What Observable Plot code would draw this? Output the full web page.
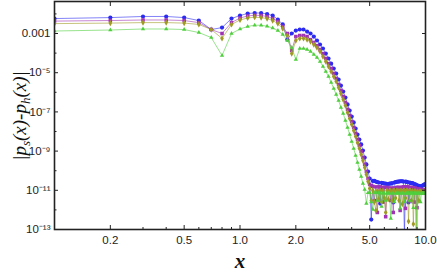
<!DOCTYPE html>
<html><head><meta charset="utf-8">
<script src="https://cdn.jsdelivr.net/npm/d3@7"></script>
<script src="https://cdn.jsdelivr.net/npm/@observablehq/plot@0.6"></script>
<style>body{margin:0;background:#fff}</style>
</head><body><div id="chart"></div>
<script>
const xs = [0.1,0.2,0.3,0.4,0.5,0.6,0.7,0.8,0.9,1.0,
1.1,1.2,1.3,1.4,1.5,1.6,1.7,1.8,1.9,2.0,
2.1,2.2,2.3,2.4,2.5,2.6,2.7,2.8,2.9,3.0,
3.1,3.2,3.3,3.4,3.5,3.6,3.7,3.8,3.9,4.0,
4.1,4.2,4.3,4.4,4.5,4.6,4.7,4.8,4.9,5.0,
5.1,5.2,5.3,5.4,5.5,5.6,5.7,5.8,5.9,6.0,
6.1,6.2,6.3,6.4,6.5,6.6,6.7,6.8,6.9,7.0,
7.1,7.2,7.3,7.4,7.5,7.6,7.7,7.8,7.9,8.0,
8.1,8.2,8.3,8.4,8.5,8.6,8.7,8.8,8.9,9.0,
9.1,9.2,9.3,9.4,9.5,9.6,9.7,9.8,9.9,10.0];

const blueVals = [5.8e-3,6.5e-3,7.4e-3,7.4e-3,6.5e-3,4.6e-3,1.6e-3,2.0e-3,5.8e-3,8.3e-3,
1.05e-2,1.11e-2,1.11e-2,9.9e-3,8.3e-3,5.2e-3,2.9e-3,4.9e-4,1.0e-3,1.42e-3,
1.6e-3,1.6e-3,1.26e-3,1.0e-3,7.0e-4,4.4e-4,2.75e-4,1.72e-4,9.5e-5,5.3e-5,
2.9e-5,1.64e-5,9.1e-6,4.5e-6,2.2e-6,1.1e-6,5.4e-7,2.4e-7,1.18e-7,5.8e-8,
2.9e-8,1.42e-8,7.0e-9,3.9e-9,2.2e-9,1.07e-9,4.7e-10,2.1e-10,9.1e-11,4.0e-11,
3.2e-13,3.0e-11,3.0e-11,2.8e-11,2.6e-11,2.5e-11,2.1e-12,2.4e-11,2.3e-11,2.2e-11,
2.2e-11,2.1e-11,2.1e-11,2.2e-11,2.2e-11,2.3e-11,2.4e-12,2.5e-11,2.6e-11,2.7e-11,
2.8e-11,2.8e-11,2.9e-11,2.9e-11,2.9e-11,2.8e-11,5e-14,2.8e-11,2.7e-11,2.6e-11,
2.4e-12,2.5e-11,2.4e-11,2.3e-11,2.3e-11,2.2e-11,2.1e-11,2.0e-11,1.9e-11,1.8e-11,
1.7e-11,1.7e-11,1.6e-11,1.6e-11,1.6e-11,1.7e-11,1.8e-11,1.9e-11,2.0e-11,2.1e-11];

const purpleVals = [4.3e-3,4.6e-3,4.9e-3,4.9e-3,4.6e-3,3.6e-3,1.6e-3,1.0e-3,3.6e-3,6.2e-3,
7.8e-3,8.6e-3,8.3e-3,7.4e-3,5.8e-3,4.1e-3,2.3e-3,1.0e-3,1.36e-4,7.0e-4,
7.9e-4,7.9e-4,7.0e-4,4.9e-4,3.5e-4,2.4e-4,1.53e-4,9.5e-5,5.3e-5,2.9e-5,
1.64e-5,9.1e-6,5.1e-6,2.5e-6,1.24e-6,6.1e-7,3.0e-7,1.33e-7,6.5e-8,3.2e-8,
1.6e-8,7.9e-9,3.9e-9,1.93e-9,9.5e-10,4.7e-10,2.1e-10,9.1e-11,4.0e-11,2.0e-11,
1.7e-11,1.6e-11,3.0e-12,1.5e-11,7.4e-13,1.5e-11,1.5e-11,1.4e-11,2.5e-12,1.4e-11,
4.5e-13,1.4e-11,1.3e-11,1.3e-11,3.0e-12,1.3e-11,7.4e-13,1.3e-11,1.3e-11,1.4e-11,
1.4e-11,1.4e-11,9.4e-13,1.4e-11,1.4e-11,1.5e-11,1.5e-11,1.2e-12,1.5e-11,1.5e-11,
1.4e-11,3.0e-12,1.4e-11,1.4e-11,1.3e-11,1.3e-11,2.5e-12,1.3e-11,1.2e-11,1.3e-12,
1.2e-11,1.2e-11,1.1e-11,1.1e-11,1.1e-11,1.0e-11,1.0e-11,1.0e-11,1.0e-11,1.0e-11];

const oliveVals = [3.2e-3,3.4e-3,3.6e-3,3.6e-3,3.4e-3,2.9e-3,1.6e-3,5.6e-4,2.9e-3,4.9e-3,
6.2e-3,6.8e-3,6.5e-3,5.8e-3,4.6e-3,3.2e-3,1.8e-3,7.9e-4,9.5e-5,4.4e-4,
5.6e-4,5.6e-4,4.9e-4,3.9e-4,2.75e-4,1.93e-4,1.21e-4,6.7e-5,3.7e-5,2.1e-5,
1.15e-5,6.4e-6,3.6e-6,1.76e-6,8.7e-7,4.3e-7,2.1e-7,9.3e-8,4.6e-8,2.3e-8,
1.12e-8,5.6e-9,2.7e-9,1.36e-9,6.7e-10,3.3e-10,1.46e-10,6.4e-11,2.8e-11,1.24e-11,
3.0e-12,1.0e-11,2.5e-12,9.4e-13,9.5e-12,3.5e-12,9.5e-12,2.5e-12,9.5e-12,4.0e-12,
7.4e-13,9.5e-12,3.5e-12,9.5e-12,9.5e-12,3.0e-12,9.5e-12,9.5e-12,4.0e-12,9.5e-12,
9.5e-12,3.0e-12,9.5e-12,9.5e-12,2.0e-12,9.5e-12,9.5e-12,4.0e-12,9.5e-12,9.5e-12,
2.6e-13,9.5e-12,9.5e-12,3.0e-12,9.0e-12,1.9e-13,9.0e-12,9.0e-12,5e-14,8.5e-12,
8.5e-12,3.0e-12,8.5e-12,8.5e-12,8.0e-12,8.0e-12,8.0e-12,8.0e-12,8.0e-12,8.0e-12];

const greenVals = [1.34e-3,1.51e-3,1.7e-3,1.7e-3,1.6e-3,1.12e-3,6.2e-4,7.5e-5,1.0e-3,1.7e-3,
2.3e-3,2.65e-3,2.65e-3,2.36e-3,1.9e-3,1.42e-3,8.9e-4,4.4e-4,1.93e-4,4.7e-5,
1.72e-4,1.72e-4,1.53e-4,1.21e-4,8.5e-5,6.0e-5,3.7e-5,2.1e-5,1.15e-5,6.4e-6,
3.2e-6,1.56e-6,7.7e-7,3.8e-7,1.68e-7,8.3e-8,3.6e-8,1.6e-8,7.0e-9,3.1e-9,
1.36e-9,6.0e-10,2.6e-10,1.15e-10,5.1e-11,2.2e-11,1.1e-11,2.1e-12,7.5e-12,7.5e-12,
2.5e-12,1.05e-12,7.5e-12,7.5e-12,3.0e-12,7.5e-12,7.0e-12,1.5e-12,7.0e-12,7.0e-12,
3.0e-12,7.0e-12,7.0e-12,7.0e-12,3.6e-13,7.0e-12,7.0e-12,2.5e-12,7.0e-12,7.0e-12,
7.0e-12,7.0e-12,1.2e-12,7.0e-12,7.0e-12,7.0e-12,2.5e-12,7.0e-12,7.0e-12,7.0e-12,
7.0e-12,3.0e-12,7.0e-12,7.0e-12,7.0e-12,1.3e-12,7.0e-12,7.0e-12,7.0e-12,5e-14,
7.0e-12,7.0e-12,7.0e-12,2.5e-12,7.0e-12,7.0e-12,7.0e-12,7.0e-12,7.0e-12,7.0e-12];

const seriesNames = ["blue", "purple", "olive", "green"];
const seriesColors = ["#2b2bf2", "#a032b4", "#a09a22", "#4fcf3c"];
const seriesSymbols = ["circle", "square", "diamond", "triangle"];
const seriesRadius = [2.1, 2.0, 1.9, 1.6];

const xTickVals = [0.2, 0.5, 1, 2, 5, 10];
const xTickLabels = ["0.2", "0.5", "1.0", "2.0", "5.0", "10.0"];
const xMinorVals = [0.3,0.4,0.6,0.7,0.8,0.9,3,4,6,7,8,9];
const yTickVals = [1e-3, 1e-5, 1e-7, 1e-9, 1e-11, 1e-13];
const yTickLabels = ["0.001", "10\u207B\u2075", "10\u207B\u2077", "10\u207B\u2079", "10\u207B\u00B9\u00B9", "10\u207B\u00B9\u00B3"];
const yMinorVals = [1e-2, 1e-4, 1e-6, 1e-8, 1e-10, 1e-12];

const allVals = [blueVals, purpleVals, oliveVals, greenVals];

const marks = [];
seriesNames.forEach((name, i) => {
  const rows = xs.map((x, j) => ({x, y: allVals[i][j]}));
  marks.push(Plot.line(rows, {x: "x", y: "y", stroke: seriesColors[i], strokeWidth: 0.9, strokeOpacity: 0.65, clip: true}));
  marks.push(Plot.dot(rows, {x: "x", y: "y", symbol: () => seriesSymbols[i], fill: seriesColors[i], stroke: "none", r: seriesRadius[i], clip: true}));
});

const fmtX = d => xTickLabels[xTickVals.indexOf(d)];
const fmtY = d => yTickLabels[yTickVals.indexOf(d)];

const svg = Plot.plot({
  width: 437, height: 276,
  marginLeft: 54, marginRight: 12, marginTop: 1, marginBottom: 47,
  x: {type: "log", domain: [0.1, 10]},
  y: {type: "log", domain: [1e-13, 0.043]},
  symbol: {type: "identity"},
  style: {fontFamily: "'Liberation Sans', Arial, sans-serif", fontSize: "11px", color: "#222"},
  marks: [
    ...marks,
    Plot.axisX({ticks: xTickVals, tickSize: 0, tickPadding: 6, tickFormat: fmtX, label: null, fontSize: 11.5}),
    Plot.axisX({ticks: xTickVals, tickSize: -4, tickFormat: () => "", label: null}),
    Plot.axisX({ticks: xMinorVals, tickSize: -2, tickFormat: () => "", label: null}),
    Plot.axisX({anchor: "top", ticks: xTickVals, tickSize: -4, tickFormat: () => "", label: null}),
    Plot.axisY({ticks: yTickVals, tickSize: 0, tickPadding: 4, tickFormat: fmtY, label: null, fontSize: 11.5}),
    Plot.axisY({ticks: yTickVals, tickSize: -4, tickFormat: () => "", label: null}),
    Plot.axisY({ticks: yMinorVals, tickSize: -2.5, tickFormat: () => "", label: null}),
    Plot.axisY({anchor: "right", ticks: yTickVals, tickSize: -4, tickFormat: () => "", label: null}),
    Plot.frame({stroke: "#222", strokeWidth: 1.6})
  ]
});

const s = d3.select(svg);
const ylab = s.append("text")
  .attr("transform", "translate(26,116) rotate(-90)")
  .attr("text-anchor", "middle")
  .attr("font-family", "'Liberation Serif', 'DejaVu Serif', serif")
  .attr("font-style", "italic")
  .attr("font-size", 19)
  .attr("fill", "#111");
ylab.append("tspan").text("|p");
ylab.append("tspan").attr("font-size", 13).attr("dy", 4).text("s");
ylab.append("tspan").attr("dy", -4).text("(x)-p");
ylab.append("tspan").attr("font-size", 13).attr("dy", 4).text("h");
ylab.append("tspan").attr("dy", -4).text("(x)|");

s.append("text")
  .attr("x", 240).attr("y", 268)
  .attr("text-anchor", "middle")
  .attr("font-family", "'Liberation Serif', 'DejaVu Serif', serif")
  .attr("font-style", "italic")
  .attr("font-weight", "bold")
  .attr("font-size", 21)
  .attr("fill", "#111")
  .text("x");

document.getElementById("chart").appendChild(svg);
</script>
</body></html>
